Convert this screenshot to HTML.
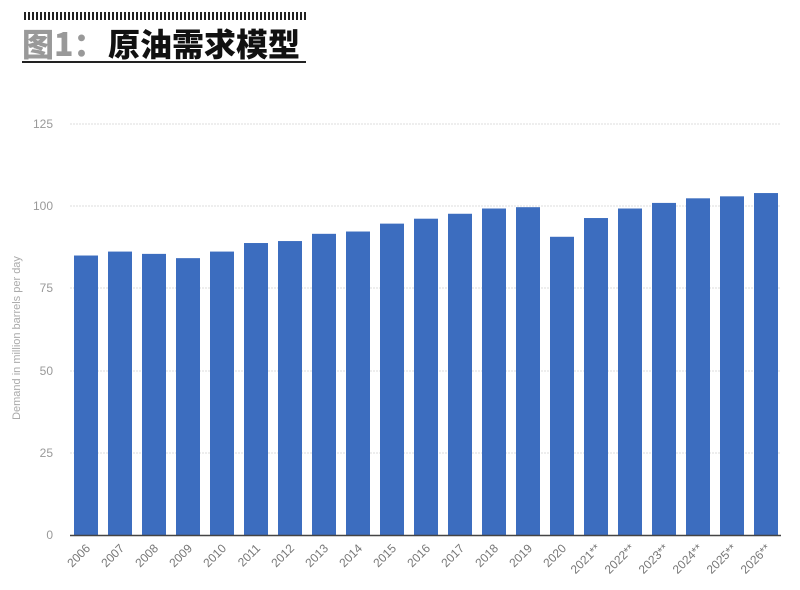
<!DOCTYPE html>
<html><head><meta charset="utf-8"><style>
html,body{margin:0;padding:0;background:#fff;}
body{width:800px;height:590px;overflow:hidden;position:relative;font-family:"Liberation Sans","Noto Sans CJK SC",sans-serif;}
</style></head><body>
<svg width="800" height="590" xmlns="http://www.w3.org/2000/svg" style="position:absolute;left:0;top:0">
<defs><pattern id="st" width="4" height="8" patternUnits="userSpaceOnUse"><rect x="0" y="0" width="2" height="8" fill="#222"/></pattern></defs>
<rect x="22" y="12" width="284" height="8" fill="url(#st)"/>
<text x="22" y="56" font-family="Noto Sans CJK SC, sans-serif" font-weight="900" font-size="32" fill="#999">图1：</text>
<text x="108" y="56" font-family="Noto Sans CJK SC, sans-serif" font-weight="900" font-size="32" fill="#111">原油需求模型</text>
<rect x="22" y="61" width="284" height="2" fill="#222"/>
<g stroke="#ddd" stroke-width="1" stroke-dasharray="2,1">
<line x1="70" y1="124" x2="781" y2="124"/><line x1="70" y1="206" x2="781" y2="206"/>
<line x1="70" y1="288" x2="781" y2="288"/><line x1="70" y1="371" x2="781" y2="371"/>
<line x1="70" y1="453" x2="781" y2="453"/>
</g>
<g font-size="12" fill="#999" text-anchor="end">
<text x="53" y="128">125</text><text x="53" y="210">100</text><text x="53" y="292">75</text>
<text x="53" y="375">50</text><text x="53" y="457">25</text><text x="53" y="539">0</text>
</g>
<text transform="translate(20,338) rotate(-90)" font-size="11" fill="#aaa" text-anchor="middle">Demand in million barrels per day</text>
<g fill="#3c6dbf" id="bars"></g>
<line x1="70" y1="535.5" x2="781" y2="535.5" stroke="#444" stroke-width="1.5"/>
<g font-size="12" fill="#777" text-anchor="end" id="lbl"></g>
</svg>
<script>
var v=[85,86.2,85.5,84.2,86.2,88.8,89.4,91.6,92.3,94.7,96.2,97.7,99.3,99.7,90.7,96.4,99.3,101,102.4,103,104];
var b=document.getElementById('bars'),l=document.getElementById('lbl'),ns='http://www.w3.org/2000/svg';
for(var i=0;i<21;i++){var x=74+34*i,h=v[i]*3.288;var r=document.createElementNS(ns,'rect');
r.setAttribute('x',x);r.setAttribute('y',535-h);r.setAttribute('width',24);r.setAttribute('height',h);b.appendChild(r);
var t=document.createElementNS(ns,'text');var cx=x+17,cy=549;t.setAttribute('transform','translate('+cx+','+cy+') rotate(-45)');
t.textContent=(2006+i)+(i>=15?'**':'');l.appendChild(t);}
</script>
</body></html>
